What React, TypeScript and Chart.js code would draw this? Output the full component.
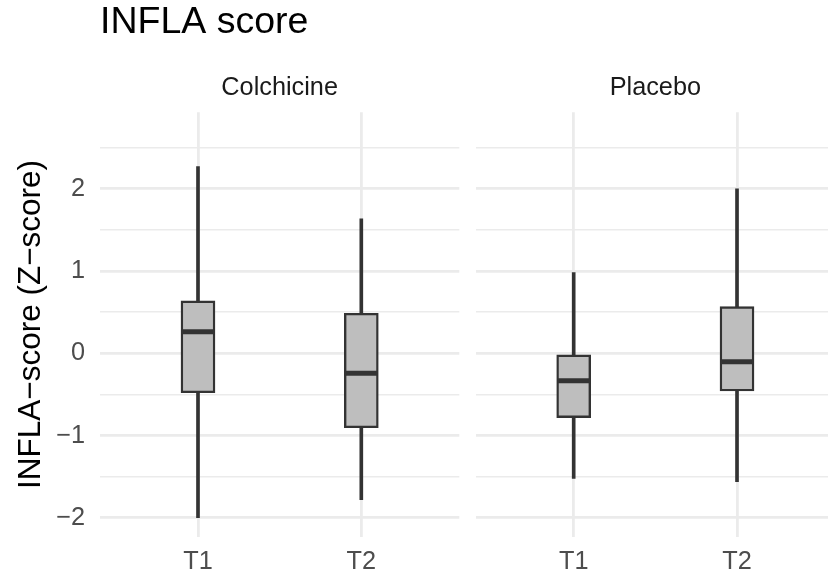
import React, { useEffect, useRef } from "react";
import { Chart, registerables } from "chart.js";

Chart.register(...registerables);

// ---- data ----
const categories = ["T1", "T2"];
const categoryX = [1, 2];
const panels = ["Colchicine", "Placebo"];

const colchicineLow = [-2.0, -1.78];
const colchicineQ1 = [-0.48, -0.905];
const colchicineMedian = [0.263, -0.243];
const colchicineQ3 = [0.636, 0.487];
const colchicineHigh = [2.27, 1.634];

const placeboLow = [-1.52, -1.56];
const placeboQ1 = [-0.783, -0.459];
const placeboMedian = [-0.333, -0.102];
const placeboQ3 = [-0.02, 0.567];
const placeboHigh = [0.98, 2.0];

const yTickValues = [-2, -1, 0, 1, 2];
const yTickLabels = ["\u22122", "\u22121", "0", "1", "2"];

const titleText = "INFLA score";
const yAxisTitle = "INFLA\u2212score (Z\u2212score)";

// ---- styles ----
const FONT = "'Liberation Sans', Arial, Helvetica, sans-serif";
const GRID = "#EBEBEB";
const DARK = "#333333";
const FILL = "#BEBEBE";

function buildConfig(
  low: number[],
  q1: number[],
  med: number[],
  q3: number[],
  high: number[],
  strip: string,
  first: boolean,
  padLeft: number,
  padRight: number
): any {
  const whiskers = categoryX.map((x, i) => ({ x, y: [low[i], high[i]] }));
  const boxes = categoryX.map((x, i) => ({ x, y: [q1[i], q3[i]] }));
  const medians = categoryX.map((x, i) => ({ x, y: med[i] }));
  return {
    type: "bar",
    data: {
      datasets: [
        {
          type: "bar",
          data: whiskers,
          backgroundColor: DARK,
          borderWidth: 0,
          barThickness: 3,
          grouped: false,
          order: 3,
        },
        {
          type: "bar",
          data: boxes,
          backgroundColor: FILL,
          borderColor: DARK,
          borderWidth: 2.4,
          borderSkipped: false,
          barThickness: 34,
          grouped: false,
          order: 2,
        },
        {
          type: "scatter",
          data: medians,
          pointStyle: "line",
          radius: 16.5,
          hoverRadius: 16.5,
          borderColor: DARK,
          borderWidth: 5,
          showLine: false,
          order: 1,
        },
      ],
    },
    options: {
      animation: false,
      responsive: false,
      events: [],
      layout: {
        autoPadding: false,
        padding: { left: padLeft, right: padRight, top: 0, bottom: 0 },
      },
      plugins: {
        legend: { display: false },
        tooltip: { enabled: false },
        title: first
          ? {
              display: true,
              text: titleText,
              align: "start",
              fullSize: false,
              color: "#000000",
              font: { family: FONT, size: 37.5, weight: "normal" },
              padding: { top: 0, bottom: 10 },
            }
          : {
              display: true,
              text: strip,
              align: "center",
              fullSize: false,
              color: "#1A1A1A",
              font: { family: FONT, size: 25.3, weight: "normal" },
              padding: { top: 72.5, bottom: 9.4 },
            },
        subtitle: first
          ? {
              display: true,
              text: strip,
              align: "center",
              fullSize: false,
              color: "#1A1A1A",
              font: { family: FONT, size: 25.3, weight: "normal" },
              padding: { top: 17.5, bottom: 9.4 },
            }
          : { display: false },
      },
      scales: {
        x: {
          type: "linear",
          min: 0.4,
          max: 2.6,
          offset: false,
          border: { display: false },
          grid: { color: GRID, lineWidth: 2.8, drawTicks: false, offset: false },
          ticks: {
            stepSize: 1,
            includeBounds: false,
            padding: 10,
            color: "#4D4D4D",
            font: { family: FONT, size: 25.3 },
            callback: (v: number) => {
              const idx = categoryX.indexOf(v);
              return idx >= 0 ? categories[idx] : "";
            },
          },
          afterFit: (s: any) => {
            s.height = 40.3;
            s.paddingLeft = 0;
            s.paddingRight = 0;
          },
        },
        y: {
          type: "linear",
          min: -2.23,
          max: 2.93,
          border: { display: false },
          grid: {
            color: GRID,
            drawTicks: false,
            lineWidth: (ctx: any) =>
              ctx.tick && Number.isInteger(ctx.tick.value) ? 2.7 : 1.4,
          },
          title: first
            ? {
                display: true,
                text: yAxisTitle,
                color: "#000000",
                font: { family: FONT, size: 31.5 },
                padding: { top: 12.1, bottom: 0 },
              }
            : { display: false },
          ticks: {
            display: first,
            stepSize: 0.5,
            includeBounds: false,
            autoSkip: false,
            padding: 15,
            color: "#4D4D4D",
            font: { family: FONT, size: 25.3 },
            callback: (v: number) => {
              const idx = yTickValues.indexOf(v);
              return idx >= 0 ? yTickLabels[idx] : "";
            },
          },
          afterFit: (s: any) => {
            s.width = first ? 100 : 0;
            s.paddingTop = 0;
            s.paddingBottom = 0;
          },
        },
      },
    },
  };
}

function Panel(props: { left: number; width: number; config: any }) {
  const ref = useRef<HTMLCanvasElement | null>(null);
  useEffect(() => {
    if (!ref.current) return;
    const chart = new Chart(ref.current, props.config);
    return () => chart.destroy();
  }, []);
  return (
    <canvas
      ref={ref}
      width={props.width}
      height={577}
      style={{ position: "absolute", left: props.left, top: 0, width: props.width, height: 577 }}
    />
  );
}

export default function App() {
  const cfg1 = buildConfig(
    colchicineLow,
    colchicineQ1,
    colchicineMedian,
    colchicineQ3,
    colchicineHigh,
    panels[0],
    true,
    0,
    7.7
  );
  const cfg2 = buildConfig(
    placeboLow,
    placeboQ1,
    placeboMedian,
    placeboQ3,
    placeboHigh,
    panels[1],
    false,
    8.7,
    12
  );
  return (
    <div
      style={{
        position: "absolute",
        left: 0,
        top: 0,
        width: 828,
        height: 577,
        overflow: "hidden",
        background: "#FFFFFF",
      }}
    >
      <Panel left={0} width={467} config={cfg1} />
      <Panel left={467} width={380} config={cfg2} />
    </div>
  );
}
